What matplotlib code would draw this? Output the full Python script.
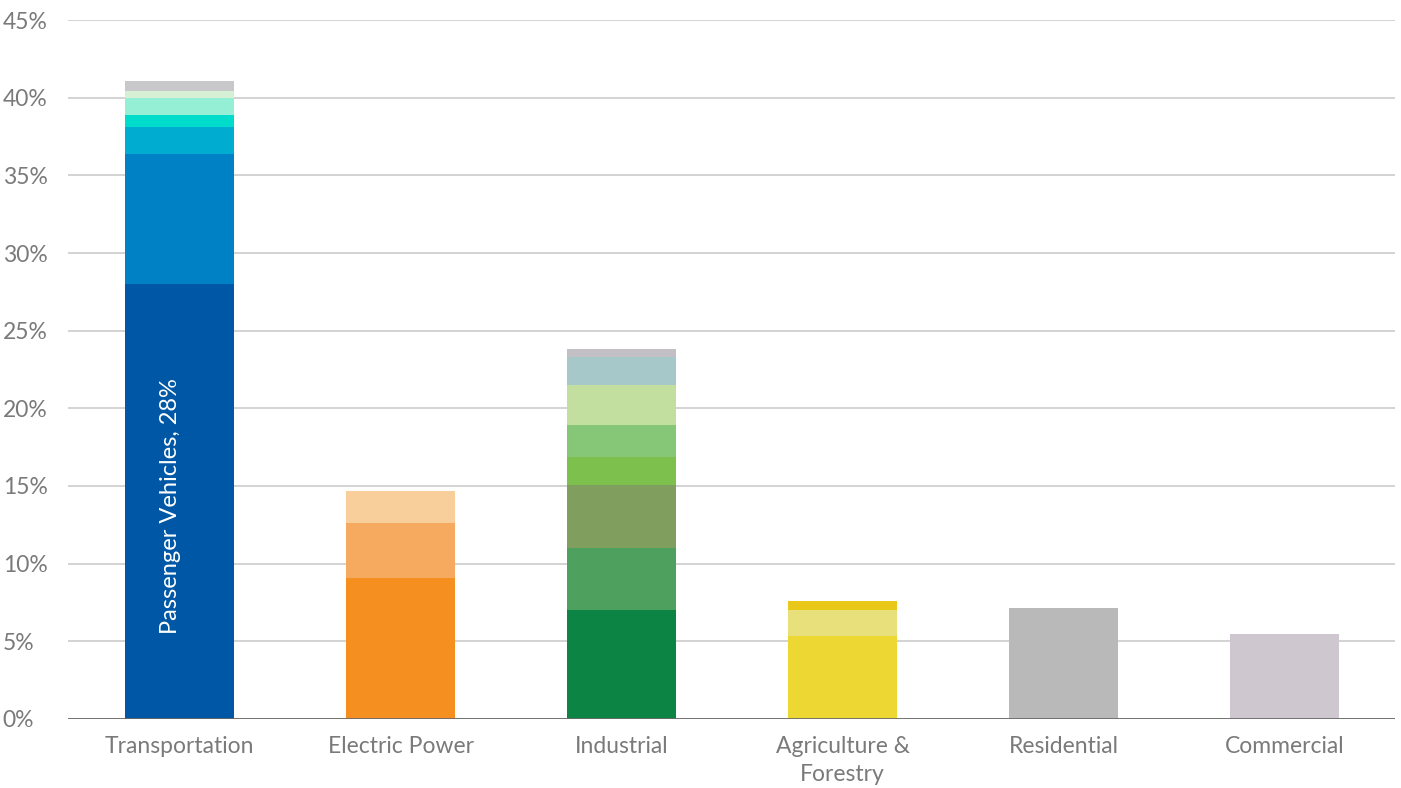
import matplotlib
matplotlib.use("Agg")
import matplotlib.pyplot as plt
import numpy as np

plt.rcParams['font.family'] = ['Lato', 'DejaVu Sans']

categories = ["Transportation", "Electric Power", "Industrial",
              "Agriculture &\nForestry", "Residential", "Commercial"]

# stacked segment shares (%), bottom to top
segments = [
    [28.0, 8.4, 1.7, 0.8, 1.1, 0.4, 0.7],
    [9.1, 3.5, 2.1],
    [7.0, 4.0, 4.05, 1.8, 2.05, 2.6, 1.8, 0.5],
    [5.35, 1.65, 0.6],
    [7.14],
    [5.47],
]

seg_colors = [
    ["#0057a5", "#0081c6", "#00acd0", "#00dccb", "#95efd4", "#d5f0d4", "#c8c8ca"],
    ["#f58f1f", "#f6aa60", "#f8ce9a"],
    ["#0b8444", "#4ea05e", "#809e5e", "#7dc04e", "#86c777", "#c2dfa0", "#a6c8c8", "#c2c0c4"],
    ["#ecd733", "#e8e07a", "#eac81a"],
    ["#b9b9b9"],
    ["#cec7cf"],
]

yticks = np.arange(0, 50, 5)

fig = plt.figure(figsize=(14.01, 7.88), dpi=100)
ax = fig.add_axes([0.0485, 0.0876, 0.9472, 0.887])

for i, (vals, cols) in enumerate(zip(segments, seg_colors)):
    bottom = 0
    for v, c in zip(vals, cols):
        ax.bar(i, v, bottom=bottom, width=0.493, color=c, zorder=3)
        bottom += v

ax.text(-0.04, 13.7, "Passenger Vehicles, 28%", rotation=90, color="white",
        ha="center", va="center", fontsize=17, zorder=4)

ax.set_xlim(-0.505, 5.5)
ax.set_ylim(0, 45)
ax.set_yticks(yticks)
ax.set_yticklabels([f"{t}%" for t in yticks])
ax.set_xticks(range(len(categories)))
ax.set_xticklabels(categories, linespacing=1.45)

ax.grid(axis="y", color="#d0d0d0", linewidth=1.3, zorder=0)
ax.axhline(0, color="#6a6a6a", linewidth=2, zorder=4)
for s in ax.spines.values():
    s.set_visible(False)

ax.tick_params(axis="both", length=0, labelsize=16.5, labelcolor="#7a7a7a")
ax.tick_params(axis="y", pad=47)
ax.tick_params(axis="x", pad=12)
for lab in ax.get_yticklabels():
    lab.set_horizontalalignment("left")

fig.savefig("out.png", dpi=100)
